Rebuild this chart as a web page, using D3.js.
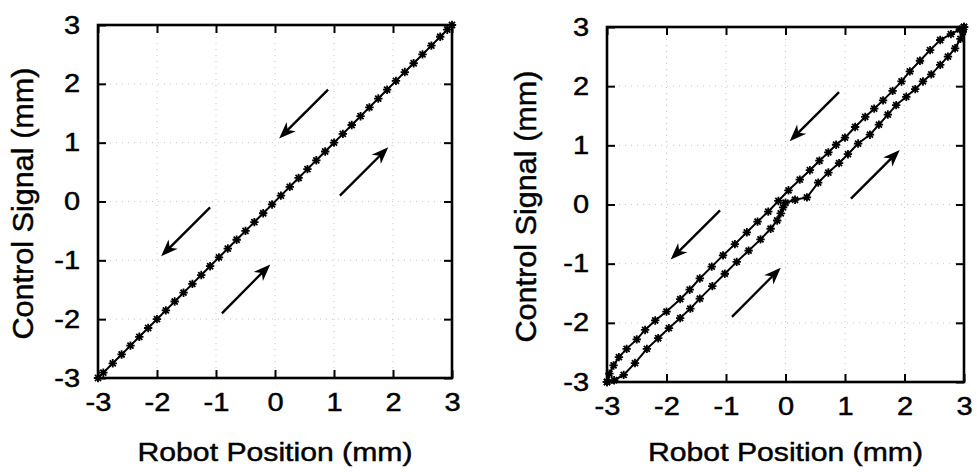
<!DOCTYPE html>
<html>
<head>
<meta charset="utf-8">
<script src="https://cdn.jsdelivr.net/npm/d3@7"></script>
<style>
  body { margin: 0; background: #fff; }
  svg text { font-family: "Liberation Sans", Arial, Helvetica, sans-serif; fill: #000; stroke: #000; stroke-width: 0.45px; }
</style>
</head>
<body>
<svg id="chart" width="977" height="472"></svg>
<script>
// Axis ticks (mm)
const tickValues = [-3, -2, -1, 0, 1, 2, 3];
const gridValues = [-2, -1, 0, 1, 2];

// Left panel: control signal follows robot position (no hysteresis)
const positionLinear = [-3.00, -2.91, -2.75, -2.60, -2.45, -2.30, -2.15, -2.00, -1.85, -1.70, -1.55,
  -1.40, -1.25, -1.10, -0.95, -0.80, -0.65, -0.50, -0.35, -0.20, -0.05, 0.10, 0.25, 0.40, 0.55,
  0.70, 0.85, 1.00, 1.15, 1.30, 1.45, 1.60, 1.75, 1.90, 2.05, 2.20, 2.35, 2.50, 2.65, 2.80, 2.92, 3.00];
const controlLinear = [-3.00, -2.91, -2.75, -2.60, -2.45, -2.30, -2.15, -2.00, -1.85, -1.70, -1.55,
  -1.40, -1.25, -1.10, -0.95, -0.80, -0.65, -0.50, -0.35, -0.20, -0.05, 0.10, 0.25, 0.40, 0.55,
  0.70, 0.85, 1.00, 1.15, 1.30, 1.45, 1.60, 1.75, 1.90, 2.05, 2.20, 2.35, 2.50, 2.65, 2.80, 2.92, 3.00];

// Right panel: hysteresis loop, returning branch (3 -> -3)
const positionReturn = [3.00, 2.93, 2.78, 2.60, 2.43, 2.26, 2.09, 1.95, 1.80, 1.64, 1.49, 1.34, 1.17,
  1.00, 0.85, 0.72, 0.57, 0.41, 0.24, 0.05, -0.12, -0.29, -0.47, -0.65, -0.85, -1.05, -1.24, -1.44,
  -1.61, -1.77, -2.00, -2.19, -2.36, -2.50, -2.67, -2.80, -2.89, -2.96, -3.00];
const controlReturn = [3.00, 2.96, 2.88, 2.78, 2.61, 2.43, 2.25, 2.08, 1.92, 1.76, 1.62, 1.48, 1.31,
  1.13, 1.01, 0.88, 0.74, 0.58, 0.42, 0.24, 0.06, -0.12, -0.29, -0.47, -0.67, -0.86, -1.05, -1.25,
  -1.44, -1.60, -1.81, -1.96, -2.12, -2.28, -2.44, -2.58, -2.72, -2.86, -3.00];

// Right panel: hysteresis loop, advancing branch (-3 -> 3)
const positionAdvance = [-3.00, -2.88, -2.72, -2.53, -2.33, -2.14, -1.96, -1.77, -1.60, -1.44, -1.23,
  -1.02, -0.82, -0.62, -0.42, -0.25, -0.14, -0.08, -0.04, 0.00, 0.16, 0.36, 0.55, 0.72, 0.90, 1.05,
  1.22, 1.42, 1.57, 1.72, 1.86, 2.03, 2.18, 2.31, 2.45, 2.60, 2.73, 2.85, 2.94, 2.98, 3.00];
const controlAdvance = [-3.00, -2.97, -2.88, -2.68, -2.44, -2.26, -2.09, -1.92, -1.76, -1.59, -1.38,
  -1.17, -0.97, -0.78, -0.59, -0.41, -0.27, -0.15, -0.05, 0.03, 0.08, 0.12, 0.37, 0.54, 0.70, 0.85,
  1.03, 1.18, 1.35, 1.52, 1.68, 1.82, 1.95, 2.08, 2.20, 2.36, 2.50, 2.64, 2.80, 2.92, 3.00];

// Direction-of-travel arrows (tail -> tip), same in both panels
const arrowTailX = [0.90, 1.10, -1.10, -0.90];
const arrowTailY = [1.90, 0.10, -0.10, -1.90];
const arrowTipX = [0.07, 1.92, -1.93, -0.08];
const arrowTipY = [1.07, 0.92, -0.93, -1.07];

const svg = d3.select("#chart");
const TEXT_STRETCH = 1.16;

function stretchText(sel, factor) {
  sel.each(function () {
    const w = this.getComputedTextLength();
    if (w > 0) {
      d3.select(this).attr("textLength", w * factor).attr("lengthAdjust", "spacingAndGlyphs");
    }
  });
}

function asterisk(s) {
  const a = s * 0.72;
  return `M${-s},0H${s}M0,${-s}V${s}M${-a},${-a}L${a},${a}M${-a},${a}L${a},${-a}`;
}

function drawPanel(frame, seriesList) {
  const x = d3.scaleLinear().domain([-3, 3]).range([frame.left, frame.right]);
  const y = d3.scaleLinear().domain([-3, 3]).range([frame.bottom, frame.top]);
  const g = svg.append("g");

  // faint dotted grid
  const grid = g.append("g").attr("stroke", "#9a9a9a").attr("stroke-width", 1)
    .attr("stroke-dasharray", "1,5").attr("opacity", 0.55);
  grid.selectAll("line.gx").data(gridValues).join("line")
    .attr("x1", d => x(d)).attr("x2", d => x(d)).attr("y1", frame.top).attr("y2", frame.bottom);
  grid.selectAll("line.gy").data(gridValues).join("line")
    .attr("y1", d => y(d)).attr("y2", d => y(d)).attr("x1", frame.left).attr("x2", frame.right);

  // axes with inward ticks
  const tickLen = 8;
  const fmt = d => String(d);
  const bottom = g.append("g").attr("transform", `translate(0,${frame.bottom})`)
    .call(d3.axisBottom(x).tickValues(tickValues).tickSize(-tickLen).tickPadding(15).tickFormat(fmt));
  const left = g.append("g").attr("transform", `translate(${frame.left},0)`)
    .call(d3.axisLeft(y).tickValues(tickValues).tickSize(-tickLen).tickPadding(18).tickFormat(fmt));
  const top = g.append("g").attr("transform", `translate(0,${frame.top})`)
    .call(d3.axisTop(x).tickValues(tickValues).tickSize(-tickLen).tickFormat(""));
  const right = g.append("g").attr("transform", `translate(${frame.right},0)`)
    .call(d3.axisRight(y).tickValues(tickValues).tickSize(-tickLen).tickFormat(""));

  [bottom, left, top, right].forEach(a => {
    a.select(".domain").remove();
    a.selectAll(".tick line").attr("stroke", "#000").attr("stroke-width", 2);
    a.selectAll("text").attr("font-size", 25).attr("font-family", null);
  });
  bottom.selectAll("text").call(stretchText, TEXT_STRETCH);
  left.selectAll("text").call(stretchText, TEXT_STRETCH);

  // frame
  g.append("rect").attr("x", frame.left).attr("y", frame.top)
    .attr("width", frame.right - frame.left).attr("height", frame.bottom - frame.top)
    .attr("fill", "none").attr("stroke", "#000").attr("stroke-width", 2.6);

  // data lines with asterisk markers
  const line = d3.line().x(d => x(d[0])).y(d => y(d[1]));
  seriesList.forEach(s => {
    const pts = s.xs.map((v, i) => [v, s.ys[i]]);
    g.append("path").datum(pts).attr("d", line).attr("fill", "none")
      .attr("stroke", "#000").attr("stroke-width", 2);
    g.append("g").selectAll("path").data(pts).join("path")
      .attr("transform", d => `translate(${x(d[0])},${y(d[1])})`)
      .attr("d", asterisk(4.2)).attr("stroke", "#000").attr("stroke-width", 1.8).attr("fill", "none");
  });

  // direction arrows
  arrowTailX.forEach((_, i) => {
    const x1 = x(arrowTailX[i]), y1 = y(arrowTailY[i]);
    const x2 = x(arrowTipX[i]), y2 = y(arrowTipY[i]);
    const ang = Math.atan2(y2 - y1, x2 - x1);
    const L = 17, W = 6.5;
    const ux = Math.cos(ang), uy = Math.sin(ang);
    const bx = x2 - ux * L, by = y2 - uy * L;
    const nx = bx + ux * 5, ny = by + uy * 5;
    g.append("line").attr("x1", x1).attr("y1", y1).attr("x2", x2 - ux * 8).attr("y2", y2 - uy * 8)
      .attr("stroke", "#000").attr("stroke-width", 2.4);
    g.append("path")
      .attr("d", `M${x2},${y2}L${bx - uy * W},${by + ux * W}L${nx},${ny}L${bx + uy * W},${by - ux * W}Z`)
      .attr("fill", "#000");
  });

  // axis titles
  g.append("text").attr("x", (frame.left + frame.right) / 2).attr("y", 461)
    .attr("text-anchor", "middle").attr("font-size", 26).text("Robot Position (mm)")
    .attr("textLength", 275).attr("lengthAdjust", "spacingAndGlyphs");
  g.append("text")
    .attr("transform", `translate(${frame.titleX},${(frame.top + frame.bottom) / 2 + 2}) rotate(-90)`)
    .attr("text-anchor", "middle").attr("font-size", 29).text("Control Signal (mm)")
    .attr("textLength", 272).attr("lengthAdjust", "spacingAndGlyphs");
}

drawPanel({ left: 98, right: 452, top: 25, bottom: 378, titleX: 33 },
  [{ xs: positionLinear, ys: controlLinear }]);
drawPanel({ left: 607, right: 964, top: 27, bottom: 382, titleX: 536 },
  [{ xs: positionReturn, ys: controlReturn }, { xs: positionAdvance, ys: controlAdvance }]);
</script>
</body>
</html>
